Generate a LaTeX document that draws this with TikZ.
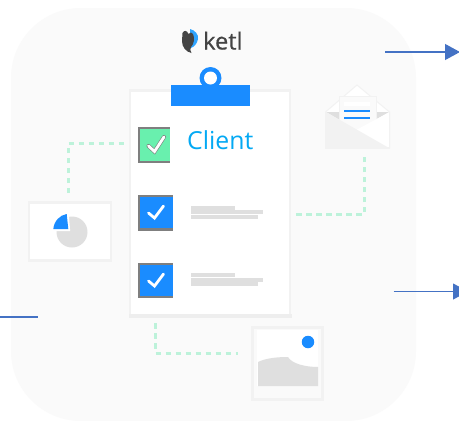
\documentclass[tikz,border=0pt]{standalone}
\usepackage{fontspec}
\setmainfont{Open Sans}
\definecolor{bgc}{HTML}{FAFAFA}
\definecolor{edgec}{HTML}{F2F2F2}
\definecolor{bandc}{HTML}{EEEEEE}
\definecolor{bluec}{HTML}{1A8CFF}
\definecolor{logoblue}{HTML}{2FA4FF}
\definecolor{greenc}{HTML}{69F0AE}
\definecolor{dashc}{HTML}{BDF2DA}
\definecolor{arrowc}{HTML}{4472C4}
\definecolor{barc}{HTML}{DFDFDF}
\definecolor{boxc}{HTML}{7F7F7F}
\definecolor{cyantext}{HTML}{03A9F4}
\definecolor{logoc}{HTML}{444444}
\usetikzlibrary{arrows.meta}
\tikzset{
  x=1pt,y=-1pt,
  box/.style={rectangle,inner sep=0pt,outer sep=0pt,anchor=north west},
  card/.style={box,fill=white,draw=edgec,line width=2.5pt},
  dashline/.style={draw=dashc,line width=3pt,dash pattern=on 5.5pt off 4.5pt},
  flow/.style={draw=arrowc,line width=1.1pt},
  tipped/.style={flow,-{Triangle[length=15pt,width=16pt,fill=arrowc]}},
  checkmark/.style={draw=white,line width=2.8pt,line cap=round,line join=miter},
  bar/.style={box,fill=barc},
}
\begin{document}
\begin{tikzpicture}
\useasboundingbox (0,0) rectangle (459,421);
\fill[white] (0,0) rectangle (459,421);
% background panel
\fill[bgc,rounded corners=70pt] (11,8) rectangle (416,421);
% dashed connectors
\coordinate (pieTop) at (68.5,193);
\coordinate (pieCorner) at (68.5,143);
\coordinate (checkLeft) at (125,143);
\coordinate (paperRight) at (296,214);
\coordinate (mailCorner) at (364,214);
\coordinate (mailBottom) at (364,155);
\coordinate (paperBottom) at (155.5,323);
\coordinate (imgCorner) at (155.5,353);
\coordinate (imgLeft) at (238,353);
\draw[dashline] (pieTop) -- (pieCorner) -- (checkLeft);
\draw[dashline] (paperRight) -- (mailCorner) -- (mailBottom);
\draw[dashline] (paperBottom) -- (imgCorner) -- (imgLeft);
% arrows
\coordinate (a1s) at (385,52); \coordinate (a1e) at (460,52);
\coordinate (a2s) at (393.5,291.5); \coordinate (a2e) at (468,291.5);
\coordinate (a3s) at (0,317); \coordinate (a3e) at (38,317);
\draw[tipped] (a1s) -- (a1e);
\begin{scope}
\clip (0,0) rectangle (459,421);
\draw[tipped] (a2s) -- (a2e);
\end{scope}
\draw[flow] (a3s) -- (a3e);
% paper
\node[card,minimum width=160pt,minimum height=225pt] (paper) at (130,90.5) {};
\fill[bandc] (129,314) rectangle (292,318);
% clip
\node[circle,fill=bluec,minimum size=22pt,inner sep=0pt] (ring) at (210.5,78) {};
\node[circle,fill=white,minimum size=13pt,inner sep=0pt] (ringhole) at (210.5,78) {};
\node[box,fill=bluec,minimum width=79pt,minimum height=21pt] (clip) at (171,85) {};
% logo
\fill[logoblue] (190,29) .. controls (195,30) and (199,35) .. (198,39) .. controls (197,44) and (194,47) .. (191,48) -- (190,40) -- cycle;
\fill[logoc] (182.5,33) .. controls (184,30) and (187,30) .. (188.5,34) .. controls (190,32) and (192,32) .. (193,34) .. controls (195,38) and (194,44) .. (191,47) .. controls (190,49) and (190,51) .. (191.5,53) .. controls (186,52) and (182,47) .. (182,41) -- cycle;
\node[anchor=base west,inner sep=0pt,text=logoc,font=\fontsize{23.5}{23.5}\selectfont\addfontfeatures{FakeBold=0.6}] (logo) at (203,49.5) {ketl};
% client text
\node[anchor=base west,inner sep=0pt,text=cyantext,font=\fontsize{24.8}{24.8}\selectfont] (client) at (187,149) {Client};
% checkboxes
\node[box,fill=boxc,minimum width=32pt,minimum height=36pt] (chkA) at (138,127) {};
\fill[greenc] (140,129) rectangle (170,160.5);
\draw[draw=boxc,line width=4pt,line cap=round] (148.5,146) -- (154.5,151.5) -- (164,137);
\draw[checkmark] (148.5,146) -- (154.5,151.5) -- (164,137);
\node[box,fill=boxc,minimum width=35pt,minimum height=36pt] (chkB) at (138,195) {};
\fill[bluec] (140,197) rectangle (173,228);
\draw[checkmark] (148.5,213) -- (154.5,218) -- (163.5,206);
\node[box,fill=boxc,minimum width=35pt,minimum height=35pt] (chkC) at (138,263) {};
\fill[bluec] (140,265) rectangle (173,296);
\draw[checkmark] (148.5,281) -- (154.5,286) -- (163.5,274);
% text bars
\node[bar,minimum width=44pt,minimum height=7pt] (b1) at (191,206) {};
\node[bar,minimum width=72pt,minimum height=4pt] (b2) at (191,210) {};
\node[bar,minimum width=67pt,minimum height=4pt] (b3) at (191,215) {};
\node[bar,minimum width=44pt,minimum height=4pt] (b4) at (191,273) {};
\node[bar,minimum width=72pt,minimum height=4pt] (b5) at (191,278) {};
\node[bar,minimum width=67pt,minimum height=4pt] (b6) at (191,282) {};
% pie card
\node[card,minimum width=82pt,minimum height=58pt] (piecard) at (29,202.5) {};
\fill[barc] (72,232) circle (15.5);
\fill[white] (68.5,212) -- (70.2,231) -- (50,231) -- (50,212) -- cycle;
\fill[bluec] (68.3,229) -- (53.3,229) .. controls (54,221) and (60,215) .. (66.7,214) -- cycle;
% envelope
\fill[white,draw=edgec,line width=1pt] (325.5,112) -- (357,85) -- (389.5,112) -- (389.5,148) -- (325.5,148) -- cycle;
\fill[barc] (326,112) -- (389,112) -- (357,130) -- cycle;
\node[box,fill=bgc,draw=edgec,line width=.8pt,minimum width=37pt,minimum height=36pt] (letter) at (339,96) {};
\fill[white] (344,102) rectangle (370,106);
\fill[bluec] (344,110) rectangle (370,112);
\fill[bluec] (344,117) rectangle (370,119);
\fill[white] (389,112.5) -- (389,148) -- (357,148) -- (357,129.5) -- cycle;
\fill[edgec] (326,112) -- (389,148) -- (326,148) -- cycle;
\draw[edgec,line width=1.5pt] (325.5,112) -- (325.5,148) -- (389.5,148) -- (389.5,112);
% image card
\node[box,fill=bgc,draw=edgec,line width=2.5pt,minimum width=70pt,minimum height=72pt] (imgcard) at (252.5,327.5) {};
\fill[white] (257,330) rectangle (318,386);
\fill[barc] (258,386) -- (258,362) .. controls (266,358) and (278,357) .. (288,357) .. controls (292,364) and (306,367) .. (318,367) -- (318,386) -- cycle;
\node[circle,fill=bluec,minimum size=12.5pt,inner sep=0pt] (sun) at (308,342) {};
\end{tikzpicture}
\end{document}
